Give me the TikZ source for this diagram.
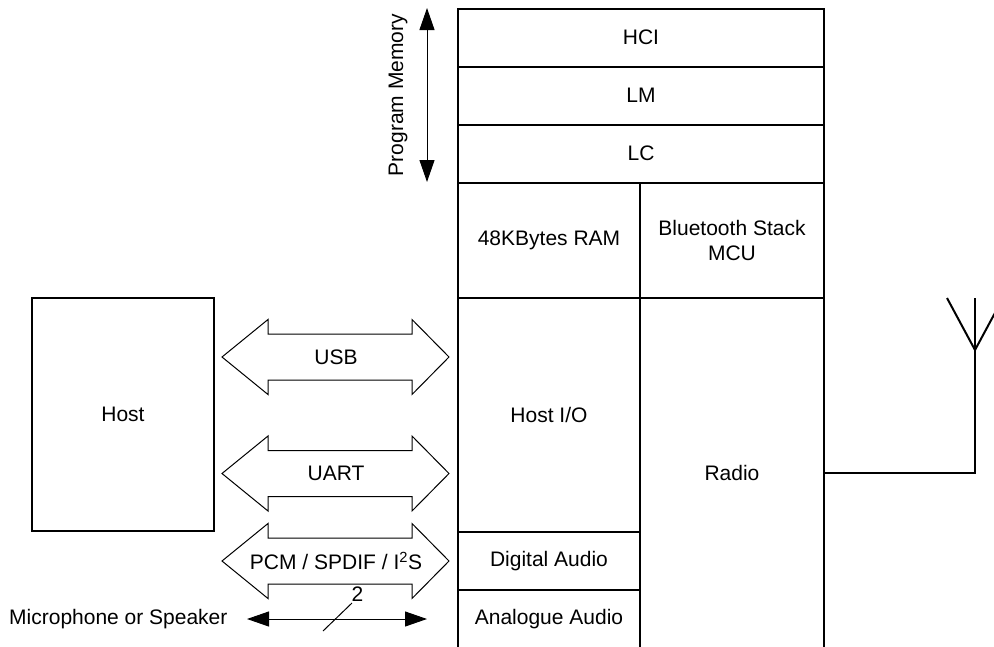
\documentclass[tikz,border=0pt]{standalone}
\usepackage{fontspec}
\setmainfont{Liberation Sans}
\usetikzlibrary{arrows.meta}
\begin{document}
\begin{tikzpicture}[x=1pt,y=-1pt,>={Triangle[length=22pt,width=15pt]},line join=miter]
	\tikzset{cell/.style={draw,line width=2pt,inner sep=0pt,align=center,font=\fontsize{21}{25}\selectfont},
		label style/.style={font=\fontsize{21}{25}\selectfont},
		bus/.style={draw,line width=1pt,fill=white}}
	%% page size
	\useasboundingbox (0,0) rectangle (994,646);
	\clip (0,0) rectangle (994,646);
	%% protocol stack
	\node[cell,minimum width=366pt,minimum height=58pt] (hci) at (641,37.5) {HCI};
	\node[cell,minimum width=366pt,minimum height=58pt] (lm) at (641,95.5) {LM};
	\node[cell,minimum width=366pt,minimum height=58pt] (lc) at (641,153.5) {LC};
	\node[cell,minimum width=182pt,minimum height=115pt] (ram) at (549,240.5) {48KBytes RAM};
	\node[cell,minimum width=184pt,minimum height=115pt] (mcu) at (732,240.5) {Bluetooth Stack\\MCU};
	\node[cell,minimum width=182pt,minimum height=234pt] (hostio) at (549,415) {Host I/O};
	\node[cell,minimum width=182pt,minimum height=58pt] (digaudio) at (549,561) {Digital Audio};
	\node[cell,minimum width=182pt,minimum height=58pt] (anaudio) at (549,619) {Analogue Audio};
	\node[cell,minimum width=184pt,minimum height=350pt] (radio) at (732,473) {Radio};
	%% host
	\node[draw,line width=1.5pt,minimum width=182pt,minimum height=233pt,label style] (host) at (123,414.5) {Host};
	%% interfaces
	\foreach \c/\name/\txt in {357/usb/USB,473.5/uart/UART,561/pcm/{PCM / SPDIF / I\textsuperscript{2}S}}{
		\draw[bus] (222,\c)--(268,\c-37.5)--(268,\c-23)--(412,\c-23)--(412,\c-37.5)--(449,\c)
			--(412,\c+37.5)--(412,\c+23)--(268,\c+23)--(268,\c+37.5)--cycle;
		\node[label style] (\name) at (336,\c) {\txt};
	}
	%% microphone or speaker
	\node[label style,anchor=east] (micspk) at (231,619) {Microphone or Speaker};
	\coordinate (micl) at (247,619);
	\coordinate (micr) at (427,619);
	\draw[<->,line width=1pt] (micl)--(micr);
	\coordinate (slasha) at (323,631);
	\coordinate (slashb) at (352,603);
	\draw[line width=1pt] (slasha)--(slashb) node[label style,anchor=south west,inner sep=1pt,xshift=-2pt] {2};
	%% program memory
	\coordinate (pmtop) at (427,8);
	\coordinate (pmbot) at (427,182);
	\draw[<->,line width=1pt] (pmtop)--(pmbot);
	\node[label style,rotate=90] (pmem) at (398,95) {Program Memory};
	%% antenna
	\coordinate (ant) at (975,473);
	\coordinate (antv) at (975,350);
	\draw[line width=2pt] (radio.east |- ant)--(ant)--(975,298);
	\draw[line width=2pt] (947,298)--(antv)--(1003,298);
\end{tikzpicture}
\end{document}
